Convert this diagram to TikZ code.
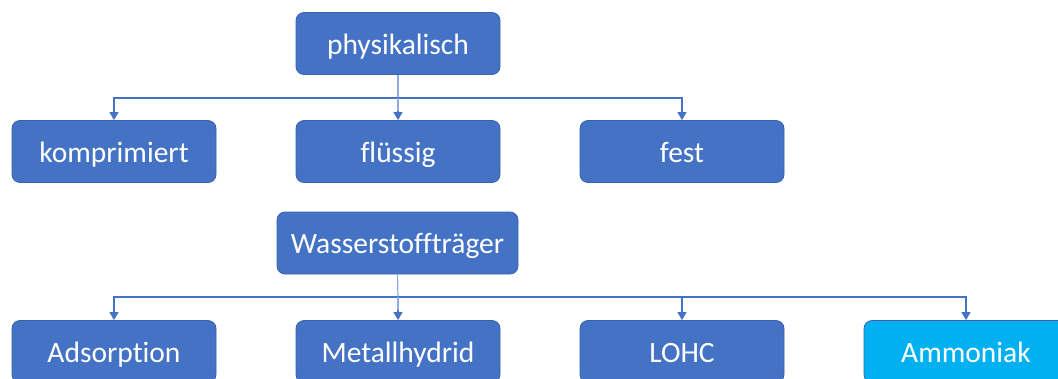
\documentclass[tikz,border=0pt]{standalone}
\usepackage{fontspec}
\setmainfont[Ligatures={NoCommon}]{Carlito}
\usetikzlibrary{arrows.meta}
\definecolor{boxblue}{HTML}{4472C4}
\definecolor{boxedge}{HTML}{3A63AE}
\definecolor{cyanbox}{HTML}{00B0F0}
\definecolor{lightln}{HTML}{8FAADC}
\tikzset{
  x=1pt,y=1pt,
  box/.style={draw=boxedge,line width=0.8pt,fill=boxblue,rounded corners=8pt,
    minimum width=204pt,minimum height=62pt,inner sep=0pt,text=white,
    text height=24pt,text depth=3pt,
    font=\fontsize{29.5}{34}\selectfont},
  cbox/.style={box,fill=cyanbox,draw=boxedge},
  ln/.style={draw=boxblue,line width=1.2pt},
  arr/.style={ln,-{Triangle[width=9pt,length=8pt]}},
  lt/.style={draw=lightln,line width=1.2pt}
}
\begin{document}
\begin{tikzpicture}
\useasboundingbox (0,0) rectangle (1058,-378);
\clip (0,0) rectangle (1058,-378);
% top group
\node[box] (p) at (398,-43.5) {physikalisch};
\node[box] (k) at (114,-151.5) {komprimiert};
\node[box] (f) at (398,-151.5) {flüssig};
\node[box] (fe) at (682,-151.5) {fest};
\coordinate (b1) at (398,-98);
\draw[lt] (p.south) -- (b1);
\draw[ln] (k.north |- b1) -- (fe.north |- b1);
\draw[arr] (b1) -| (k.north);
\draw[arr] (b1) -| (fe.north);
\draw[lt] (b1) -- ([yshift=8pt]f.north);
\draw[arr,shorten <=13pt] (b1) -- (f.north);
% bottom group
\node[box,minimum width=241pt] (w) at (397.5,-243) {Wasserstoffträger};
\node[box] (a) at (114,-351.5) {Adsorption};
\node[box] (m) at (398,-351.5) {Metallhydrid};
\node[box] (l) at (682,-351.5) {LOHC};
\node[cbox] (am) at (966,-351.5) {Ammoniak};
\coordinate (b2) at (398,-297);
\draw[lt] (w.south) -- (b2);
\draw[ln] (a.north |- b2) -- (am.north |- b2);
\draw[arr] (b2) -| (a.north);
\draw[arr] (b2) -| (l.north);
\draw[arr] (b2) -| (am.north);
\draw[lt] (b2) -- ([yshift=8pt]m.north);
\draw[arr,shorten <=13pt] (b2) -- (m.north);
\end{tikzpicture}
\end{document}
